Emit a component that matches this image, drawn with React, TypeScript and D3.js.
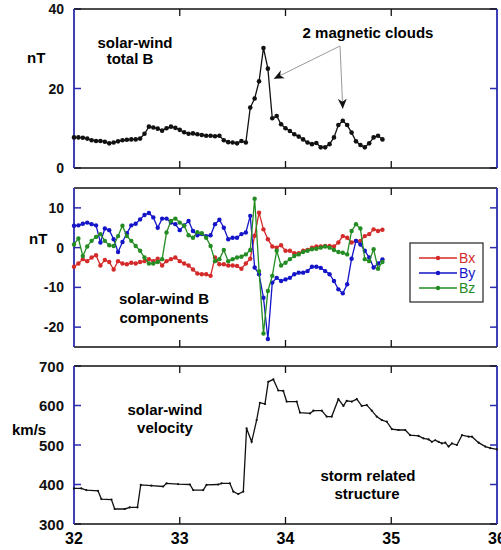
import React from 'react';
import * as d3 from 'd3';

// hourly samples starting at day 32.0
const START_DAY = 32;
const totalB = [7.7, 7.7, 7.6, 7.4, 7.0, 6.8, 6.8, 6.6, 6.2, 6.4, 6.7, 7.0, 7.1, 7.2, 7.2, 7.4, 8.6, 10.4, 10.2, 9.9, 9.4, 10.0, 10.4, 10.1, 9.6, 9.0, 8.6, 8.7, 8.5, 8.3, 8.1, 8.1, 8.0, 8.1, 7.0, 6.5, 6.4, 6.2, 6.8, 6.4, 15.2, 17.5, 21.8, 30.2, 25, 12.5, 13.1, 11, 10, 9.3, 8.5, 7.9, 7.2, 6.4, 6.0, 6.3, 5.2, 5.2, 6.0, 7.7, 10.8, 11.9, 10.8, 8.9, 6.7, 5.8, 5.2, 6.2, 7.7, 8.1, 7.2];
const bx = [-4.8, -4, -2.9, -3.4, -2.5, -1.9, -4.5, -3.1, -3.6, -5.5, -3.4, -4, -4.2, -3.8, -4, -3.6, -3.4, -2.9, -3.4, -2.8, -4.5, -3.4, -2.9, -2.5, -3.4, -4, -4.5, -5.5, -6.5, -6.7, -6.7, -7.1, -2.5, -4.2, -4.2, -4.5, -4.5, -4.6, -5.3, -4, -2.8, 3, 8.8, 4.6, 2.1, 0.3, 0, 0.6, -0.8, -0.8, -1.4, -1.4, -0.8, -0.6, 0, 0.3, 0.3, 0.4, 0.4, 0.3, 1.3, 2.9, 2.5, 1.3, 1.7, 1.7, 2.9, 3.4, 4.6, 4.2, 4.5];
const by = [5.5, 5.6, 6, 6.3, 5.9, 5.6, 1.3, 4.8, 4.4, 2.1, -1.1, 1.4, 3.6, 5.6, 6, 7.1, 8.2, 8.7, 7.6, 5, 7.3, 7.3, 6.3, 5.9, 4.4, 5.6, 6.7, 4.2, 3.1, 3.4, 2.9, 3.1, 5.9, 7, 5, 2.1, 2.5, 2.5, 3.4, 3.8, 8, -5, -6.7, -12.6, -23, -8.8, -7.6, -8.4, -8, -7.6, -6.7, -6.3, -6.3, -5.9, -4.8, -4.8, -5.1, -5.9, -6.7, -8.4, -10.5, -11.5, -9.2, -2.8, 1.7, 0.8, -0.8, -2.5, -5, -4, -3];
const bz = [0.8, 2.3, -2.1, 0.3, 1.7, 2.7, 3.4, 1.7, 0.6, 0.4, 2.9, 5.5, 2.9, 1.7, 0.4, -0.8, -2.5, -4, -4, -3.6, -2.9, 3.8, 6.7, 7.3, 6.3, 5.5, 3.1, 2.5, 3.9, 3.6, 2.5, 0.4, -3.4, -2.9, -0.6, -3.4, -2.9, -2.5, -2.3, -1.7, -0.6, 12.3, -5.9, -21.6, -10.9, -7.1, -0.8, -4.5, -3.8, -2.9, -2.1, -1.7, -1.1, -0.8, -0.4, -0.3, 0, 0.3, 0, -0.6, -1.1, -1.3, -1.7, 4.2, 5.9, 4.8, -2.9, -3.4, -0.4, -5.3, -3.6];

const velDays = [32.0, 32.069, 32.117, 32.227, 32.259, 32.354, 32.385, 32.48, 32.527, 32.6, 32.631, 32.732, 32.843, 32.875, 32.985, 33.096, 33.127, 33.222, 33.253, 33.364, 33.395, 33.474, 33.506, 33.553, 33.601, 33.632, 33.68, 33.727, 33.758, 33.806, 33.837, 33.885, 33.932, 33.979, 34.011, 34.106, 34.137, 34.232, 34.264, 34.343, 34.39, 34.437, 34.5, 34.548, 34.579, 34.627, 34.674, 34.721, 34.769, 34.816, 34.863, 34.911, 34.958, 35.006, 35.069, 35.132, 35.179, 35.258, 35.305, 35.353, 35.384, 35.416, 35.448, 35.479, 35.511, 35.542, 35.574, 35.621, 35.669, 35.732, 35.763, 35.826, 35.89, 35.937, 36.0];
const velocity = [390, 390, 386, 384, 363, 362, 338, 338, 342, 342, 399, 397, 395, 403, 401, 400, 386, 386, 399, 400, 403, 403, 382, 376, 382, 542, 508, 563, 607, 604, 660, 666, 638, 637, 610, 610, 582, 580, 587, 587, 572, 572, 616, 599, 612, 610, 616, 599, 601, 587, 572, 563, 559, 540, 538, 538, 525, 523, 517, 514, 508, 512, 508, 504, 506, 496, 504, 500, 525, 521, 521, 506, 496, 492, 489];

const xTicks = [32, 33, 34, 35, 36];
const topTicks = [0, 20, 40];
const midTicks = [-20, -10, 0, 10];
const velTicks = [300, 400, 500, 600, 700];

const BLUE_AXIS = '#2b2bb0';
const FONT = '"Liberation Sans", Arial, sans-serif';
const series = [
  { name: 'Bx', values: bx, color: '#d42a2a' },
  { name: 'By', values: by, color: '#1414c8' },
  { name: 'Bz', values: bz, color: '#238c23' },
];

const dayOf = (i: number) => START_DAY + i / 24;
const x = d3.scaleLinear().domain([32, 36]).range([74, 497]);

function Frame({ y, ticks, fontSize }: { y: d3.ScaleLinear<number, number>; ticks: number[]; fontSize: number }) {
  const [y0, y1] = y.range();
  const [x0, x1] = x.range();
  return (
    <g>
      {xTicks.slice(1, -1).map((t) => (
        <g key={t}>
          <line x1={x(t)} x2={x(t)} y1={y1} y2={y1 + 7} stroke="#111" strokeWidth={1.3} />
          <line x1={x(t)} x2={x(t)} y1={y0} y2={y0 - 7} stroke="#111" strokeWidth={1.3} />
        </g>
      ))}
      {ticks.map((t) => (
        <g key={t}>
          <line x1={x0} x2={x0 + 7} y1={y(t)} y2={y(t)} stroke={BLUE_AXIS} strokeWidth={1.5} />
          <line x1={x1} x2={x1 - 7} y1={y(t)} y2={y(t)} stroke={BLUE_AXIS} strokeWidth={1.5} />
          <text x={x0 - 10} y={y(t)} textAnchor="end" dominantBaseline="central" fontSize={fontSize} fontWeight="bold" fill="#111">{t}</text>
        </g>
      ))}
      <line x1={x0} x2={x1} y1={y1} y2={y1} stroke="#111" strokeWidth={1.5} />
      <line x1={x0} x2={x1} y1={y0} y2={y0} stroke="#111" strokeWidth={1.5} />
      <line x1={x0} x2={x0} y1={y0} y2={y1} stroke={BLUE_AXIS} strokeWidth={1.8} />
      <line x1={x1} x2={x1} y1={y0} y2={y1} stroke={BLUE_AXIS} strokeWidth={1.8} />
    </g>
  );
}

export default function App() {
  const yTop = d3.scaleLinear().domain([0, 40]).range([168, 9]);
  const yMid = d3.scaleLinear().domain([-25, 15]).range([347, 188]);
  const yVel = d3.scaleLinear().domain([300, 700]).range([524, 366]);

  const lineTop = d3.line<number>().x((_, i) => x(dayOf(i))).y((d) => yTop(d));
  const lineMid = d3.line<number>().x((_, i) => x(dayOf(i))).y((d) => yMid(d));
  const lineVel = d3.line<number>().x((_, i) => x(velDays[i])).y((d) => yVel(d));

  // arrow targets from the two cloud peaks
  const tip1 = [x(dayOf(44)) + 6, yTop(totalB[44]) + 10];
  const tip2 = [x(dayOf(61)), yTop(totalB[61]) - 12];
  const origin = [340, 46];

  return (
    <svg width={501} height={550} style={{ position: 'absolute', left: 0, top: 0, background: '#fff' }} fontFamily={FONT}>
      <defs>
        <marker id="arr" viewBox="0 0 10 10" refX={10} refY={5} markerWidth={10} markerHeight={10} markerUnits="userSpaceOnUse" orient="auto">
          <path d="M0,0.5 L10,5 L0,9.5 L3,5 Z" fill="#111" />
        </marker>
      </defs>

      {/* top panel: total B */}
      <Frame y={yTop} ticks={topTicks} fontSize={14} />
      <path d={lineTop(totalB) ?? ''} fill="none" stroke="#111" strokeWidth={1.3} />
      {totalB.map((d, i) => (
        <circle key={i} cx={x(dayOf(i))} cy={yTop(d)} r={2.3} fill="#111" />
      ))}
      <text x={27} y={57} fontSize={15} fontWeight="bold" dominantBaseline="central">nT</text>
      <text x={135} y={42} fontSize={15} fontWeight="bold" textAnchor="middle" dominantBaseline="central">solar-wind</text>
      <text x={130} y={58} fontSize={15} fontWeight="bold" textAnchor="middle" dominantBaseline="central">total B</text>
      <text x={368} y={32} fontSize={15} fontWeight="bold" textAnchor="middle" dominantBaseline="central">2 magnetic clouds</text>
      <line x1={origin[0]} y1={origin[1]} x2={tip1[0]} y2={tip1[1]} stroke="#9a9a9a" strokeWidth={1} markerEnd="url(#arr)" />
      <line x1={origin[0]} y1={origin[1]} x2={tip2[0]} y2={tip2[1]} stroke="#9a9a9a" strokeWidth={1} markerEnd="url(#arr)" />

      {/* middle panel: B components */}
      <Frame y={yMid} ticks={midTicks} fontSize={14} />
      {series.map((s) => (
        <g key={s.name}>
          <path d={lineMid(s.values) ?? ''} fill="none" stroke={s.color} strokeWidth={1.3} />
          {s.values.map((d, i) => (
            <circle key={i} cx={x(dayOf(i))} cy={yMid(d)} r={2.2} fill={s.color} />
          ))}
        </g>
      ))}
      <text x={29} y={238} fontSize={15} fontWeight="bold" dominantBaseline="central">nT</text>
      <text x={164} y={298} fontSize={15} fontWeight="bold" textAnchor="middle" dominantBaseline="central">solar-wind B</text>
      <text x={164} y={317} fontSize={15} fontWeight="bold" textAnchor="middle" dominantBaseline="central">components</text>
      <rect x={410} y={243} width={73} height={59} fill="#fff" stroke="#222" strokeWidth={1.2} />
      {series.map((s, k) => (
        <g key={s.name}>
          <line x1={419} x2={457} y1={258 + k * 15} y2={258 + k * 15} stroke={s.color} strokeWidth={1.3} />
          <circle cx={438} cy={258 + k * 15} r={2.2} fill={s.color} />
          <text x={459} y={258 + k * 15} fontSize={14} fill={s.color} dominantBaseline="central">{s.name}</text>
        </g>
      ))}

      {/* bottom panel: velocity */}
      <Frame y={yVel} ticks={velTicks} fontSize={15} />
      <path d={lineVel(velocity) ?? ''} fill="none" stroke="#111" strokeWidth={1.3} />
      {velocity.map((d, i) => (
        <circle key={i} cx={x(velDays[i])} cy={yVel(d)} r={1.1} fill="#111" />
      ))}
      <text x={12} y={429} fontSize={15} fontWeight="bold" dominantBaseline="central">km/s</text>
      <text x={165} y={409} fontSize={15} fontWeight="bold" textAnchor="middle" dominantBaseline="central">solar-wind</text>
      <text x={165} y={427} fontSize={15} fontWeight="bold" textAnchor="middle" dominantBaseline="central">velocity</text>
      <text x={368} y={475} fontSize={15} fontWeight="bold" textAnchor="middle" dominantBaseline="central">storm related</text>
      <text x={367} y={493} fontSize={15} fontWeight="bold" textAnchor="middle" dominantBaseline="central">structure</text>
      {xTicks.map((t) => (
        <text key={t} x={x(t)} y={538} fontSize={16} fontWeight="bold" textAnchor="middle" dominantBaseline="central">{t}</text>
      ))}
    </svg>
  );
}
